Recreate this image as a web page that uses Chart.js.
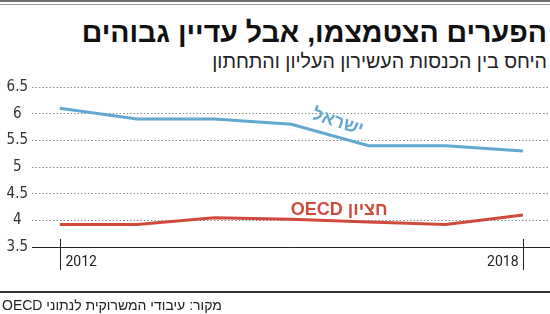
<!DOCTYPE html>
<html lang="he">
<head>
<meta charset="UTF-8">
<title>הפערים הצטמצמו</title>
<style>
  body { margin: 0; width: 550px; height: 314px; overflow: hidden; background: #fff; position: relative; font-family: "Liberation Sans", Arial, sans-serif; }
  .topline1 { position: absolute; left: 0; top: 0; width: 550px; height: 2px; background: #6f6f6f; }
  .topline2 { position: absolute; left: 0; top: 4px; width: 550px; height: 1px; background: #9a9a9a; }
  .title { position: absolute; right: 3px; top: 16px; direction: rtl; font-weight: bold; font-size: 28.5px; color: #111; white-space: nowrap; }
  .subtitle { position: absolute; right: 3px; top: 50px; direction: rtl; font-size: 19.6px; color: #222; white-space: nowrap; }
  .footline { position: absolute; left: 0; top: 291px; width: 550px; height: 2px; background: #333; }
  .source { position: absolute; left: 2px; top: 297px; direction: rtl; font-size: 14px; color: #222; white-space: nowrap; }
  canvas { position: absolute; left: 0; top: 0; }
</style>
</head>
<body>
<div class="topline1"></div>
<div class="topline2"></div>
<div class="title">הפערים הצטמצמו, אבל עדיין גבוהים</div>
<div class="subtitle">היחס בין הכנסות העשירון העליון והתחתון</div>
<canvas id="chart" width="550" height="314"></canvas>
<div class="footline"></div>
<div class="source">מקור: עיבודי המשרוקית לנתוני OECD</div>

<script src="https://cdn.jsdelivr.net/npm/chart.js"></script>
<script>
// data
const years = [2012, 2013, 2014, 2015, 2016, 2017, 2018];
const israel = [6.1, 5.9, 5.9, 5.8, 5.4, 5.4, 5.3];
const oecdMedian = [3.92, 3.92, 4.05, 4.02, 3.97, 3.92, 4.1];
const yTicks = [3.5, 4, 4.5, 5, 5.5, 6, 6.5];
const xTickLabels = [2012, 2018];
const seriesNames = ['ישראל', 'חציון OECD'];

const blue = '#62a8d0';
const red = '#d04a3c';

// draws the two year ticks and the in-chart series names
const extras = {
  id: 'extras',
  afterDraw(chart) {
    const ctx = chart.ctx;
    const xs = chart.scales.x, ys = chart.scales.y;
    const base = chart.chartArea.bottom;
    ctx.save();
    ctx.strokeStyle = '#222';
    ctx.lineWidth = 1;
    ctx.fillStyle = '#222';
    ctx.font = '14px Roboto, "Liberation Sans", sans-serif';
    ctx.textBaseline = 'middle';
    xTickLabels.forEach((yr, i) => {
      const px = Math.round(xs.getPixelForValue(yr)) + 0.5;
      ctx.beginPath();
      ctx.moveTo(px, base - 8);
      ctx.lineTo(px, base + 23);
      ctx.stroke();
      ctx.textAlign = i === 0 ? 'left' : 'right';
      ctx.fillText(String(yr), i === 0 ? px + 5 : px - 5, base + 15);
    });

    ctx.font = 'bold 18px "Liberation Sans", Arial, sans-serif';
    ctx.textAlign = 'center';
    ctx.direction = 'rtl';
    // Israel label, slanted along the line
    ctx.save();
    ctx.translate(xs.getPixelForValue(2015.6), ys.getPixelForValue(5.84));
    ctx.rotate(18 * Math.PI / 180);
    ctx.fillStyle = blue;
    ctx.fillText(seriesNames[0], 0, 0);
    ctx.restore();
    // OECD label
    ctx.fillStyle = red;
    ctx.fillText(seriesNames[1], xs.getPixelForValue(2015.62), ys.getPixelForValue(4.2));
    ctx.restore();
  }
};

new Chart(document.getElementById('chart'), {
  type: 'line',
  data: {
    datasets: [
      { label: seriesNames[0], data: years.map((y, i) => ({ x: y, y: israel[i] })), borderColor: blue, borderWidth: 3, pointRadius: 0, tension: 0 },
      { label: seriesNames[1], data: years.map((y, i) => ({ x: y, y: oecdMedian[i] })), borderColor: red, borderWidth: 3, pointRadius: 0, tension: 0 }
    ]
  },
  options: {
    responsive: false,
    animation: false,
    layout: { padding: { top: 87, bottom: 59, left: 0, right: 0 } },
    plugins: { legend: { display: false }, tooltip: { enabled: false } },
    scales: {
      x: {
        type: 'linear',
        min: 2011.64,
        max: 2018.35,
        ticks: { display: false },
        grid: { display: false },
        border: { display: true, color: '#222', width: 1 }
      },
      y: {
        min: 3.5,
        max: 6.5,
        afterBuildTicks: (axis) => { axis.ticks = yTicks.map(v => ({ value: v })); },
        afterFit: (axis) => { axis.width = 32; },
        ticks: {
          crossAlign: 'center',
          padding: 4,
          color: '#333',
          font: { family: '"Liberation Sans Narrow", "DejaVu Sans Condensed", Roboto, sans-serif', size: 15 },
          callback: (v) => String(v)
        },
        grid: { color: '#8a8a8a', lineWidth: 1, drawTicks: false },
        border: { display: true, color: 'rgba(0,0,0,0)', width: 0, dash: [1.5, 2] }
      }
    }
  },
  plugins: [extras]
});
</script>
</body>
</html>
